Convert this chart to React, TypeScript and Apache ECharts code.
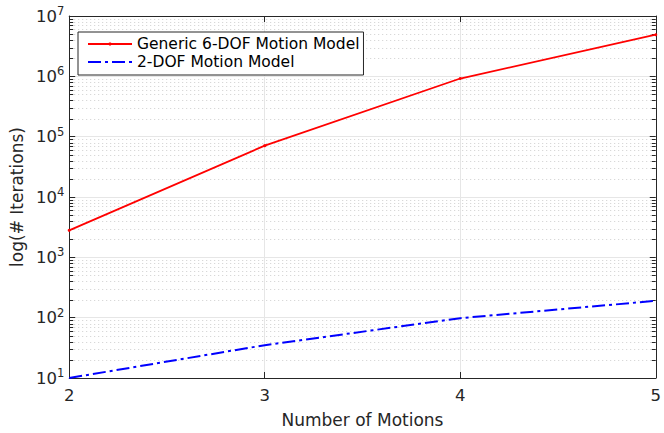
import React, { useEffect, useRef } from "react";
import * as echarts from "echarts";

const motions = [2, 3, 4, 5];
const generic6Dof = [2800, 71000, 920000, 4900000];
const twoDof = [10, 35, 98, 190];
const seriesNames = ["Generic 6-DOF Motion Model", "2-DOF Motion Model"];
const xTitle = "Number of Motions";
const yTitle = "log(# Iterations)";
const decadeExponents = [1, 2, 3, 4, 5, 6];
const mantissas = [2, 3, 4, 5, 6, 7, 8, 9];

const FONT = "DejaVu Sans";
const AXIS = "#262626";

export default function App() {
  const ref = useRef<HTMLDivElement>(null);
  useEffect(() => {
    if (!ref.current) return;
    const chart = echarts.init(ref.current, undefined, { renderer: "svg" });
    const minorValues: number[][] = [];
    decadeExponents.forEach((e) =>
      mantissas.forEach((m) => minorValues.push([motions[0], m * Math.pow(10, e)]))
    );
    const xMin = motions[0];
    const xMax = motions[motions.length - 1];
    chart.setOption({
      animation: false,
      grid: { left: 64, top: 16, width: 594, height: 366, containLabel: false },
      legend: {
        left: 78,
        top: 32,
        orient: "vertical",
        data: [
          { name: seriesNames[0] },
          { name: seriesNames[1], itemStyle: { opacity: 0 } },
        ],
        backgroundColor: "#fff",
        borderColor: AXIS,
        borderWidth: 1,
        borderRadius: 0,
        padding: [4, 4, 5, 9],
        itemWidth: 44,
        itemHeight: 4,
        itemGap: 2,
        textStyle: { fontFamily: FONT, fontSize: 15.5, color: "#000" },
      },
      xAxis: [
        {
          type: "value",
          min: xMin,
          max: xMax,
          interval: 1,
          name: xTitle,
          nameLocation: "middle",
          nameGap: 33,
          nameTextStyle: { fontFamily: FONT, fontSize: 17, color: AXIS },
          axisLine: { show: true, lineStyle: { color: AXIS, width: 1 } },
          axisTick: { show: true, inside: true, length: 6, lineStyle: { color: AXIS } },
          axisLabel: { fontFamily: FONT, fontSize: 16.5, color: AXIS, margin: 9 },
          splitLine: { show: true, lineStyle: { color: "#e6e6e6", width: 1 } },
        },
        {
          type: "value",
          position: "top",
          min: xMin,
          max: xMax,
          interval: 1,
          axisLine: { show: true, lineStyle: { color: AXIS, width: 1 } },
          axisTick: { show: true, inside: true, length: 6, lineStyle: { color: AXIS } },
          axisLabel: { show: false },
          splitLine: { show: false },
        },
      ],
      yAxis: [
        {
          type: "log",
          logBase: 10,
          min: 10,
          max: 1e7,
          name: yTitle,
          nameLocation: "middle",
          nameGap: 38,
          nameTextStyle: { fontFamily: FONT, fontSize: 17, color: AXIS },
          axisLine: { show: true, lineStyle: { color: AXIS, width: 1 } },
          axisTick: { show: true, inside: true, length: 6, lineStyle: { color: AXIS } },
          axisLabel: {
            margin: 5,
            formatter: (v: number) => `{b|10}{s|${Math.round(Math.log10(v))}}`,
            rich: {
              b: { fontFamily: FONT, fontSize: 16.5, color: AXIS },
              s: { fontFamily: FONT, fontSize: 11.5, color: AXIS, padding: [0, 0, 10, 0] },
            },
          },
          splitLine: { show: true, lineStyle: { color: "#e6e6e6", width: 1 } },
        },
        {
          type: "log",
          logBase: 10,
          position: "right",
          min: 10,
          max: 1e7,
          axisLine: { show: true, lineStyle: { color: AXIS, width: 1 } },
          axisTick: { show: true, inside: true, length: 6, lineStyle: { color: AXIS } },
          axisLabel: { show: false },
          splitLine: { show: false },
        },
      ],
      series: [
        {
          type: "custom",
          name: "minor",
          z: 1,
          silent: true,
          xAxisIndex: 0,
          yAxisIndex: 0,
          encode: { x: 0, y: 1 },
          data: minorValues,
          renderItem: (params: any, api: any) => {
            const v = api.value(1);
            const p1 = api.coord([xMin, v]);
            const p2 = api.coord([xMax, v]);
            const y = Math.round(p1[1]) + 0.5;
            return {
              type: "group",
              children: [
                {
                  type: "line",
                  shape: { x1: p1[0] + 1, y1: y, x2: p2[0] - 1, y2: y },
                  style: { stroke: "#cfcfcf", lineWidth: 1, lineDash: [1, 3] },
                },
                {
                  type: "line",
                  shape: { x1: p1[0], y1: y, x2: p1[0] + 4, y2: y },
                  style: { stroke: AXIS, lineWidth: 1 },
                },
                {
                  type: "line",
                  shape: { x1: p2[0] - 4, y1: y, x2: p2[0], y2: y },
                  style: { stroke: AXIS, lineWidth: 1 },
                },
              ],
            };
          },
        },
        {
          name: seriesNames[0],
          type: "line",
          z: 3,
          data: motions.map((m, i) => [m, generic6Dof[i]]),
          symbol: "circle",
          symbolSize: 3,
          showSymbol: true,
          itemStyle: { color: "#ff0000" },
          lineStyle: { color: "#ff0000", width: 1.8 },
        },
        {
          name: seriesNames[1],
          type: "line",
          z: 3,
          data: motions.map((m, i) => [m, twoDof[i]]),
          symbol: "none",
          itemStyle: { color: "#0000ff" },
          lineStyle: { color: "#0000ff", width: 2, type: [13, 4, 3, 4] },
        },
      ],
    });
    return () => chart.dispose();
  }, []);
  return <div ref={ref} style={{ width: 664, height: 433, position: "absolute", left: 0, top: 0 }} />;
}
